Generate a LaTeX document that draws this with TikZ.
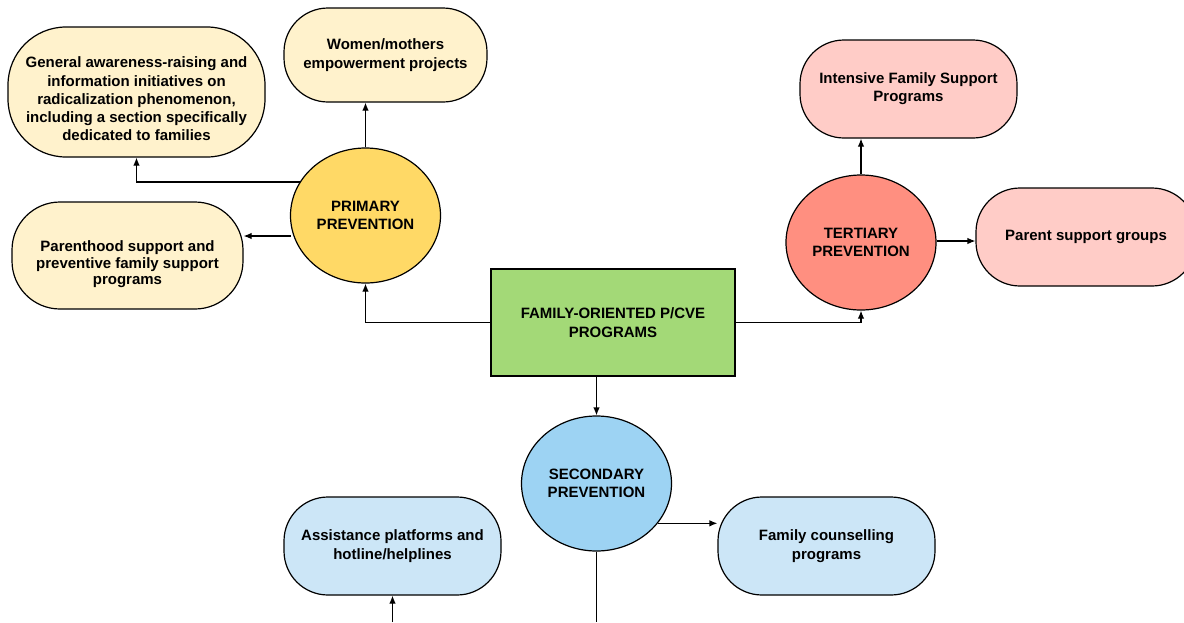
\documentclass[tikz,border=0pt]{standalone}
\usepackage{fontspec}
\setmainfont{Liberation Sans}
\usetikzlibrary{shapes.geometric,arrows.meta}
\definecolor{ylight}{HTML}{FFF2CC}
\definecolor{ydark}{HTML}{FFD966}
\definecolor{gmain}{HTML}{A3D977}
\definecolor{rdark}{HTML}{FF8F80}
\definecolor{rlight}{HTML}{FFCCC7}
\definecolor{bdark}{HTML}{9DD3F3}
\definecolor{blight}{HTML}{CCE6F7}
\begin{document}
\begin{tikzpicture}[x=1pt,y=-1pt,
  txt/.style={font=\bfseries\fontsize{15}{18.3}\selectfont,align=center,text=black},
  pill/.style={txt,draw=black,line width=1.2pt,rectangle,inner sep=0pt,rounded corners=44pt},
  oval/.style={txt,draw=black,line width=1.2pt,ellipse,inner sep=0pt,minimum width=150pt,minimum height=135pt},
  conn/.style={draw=black,line width=1.2pt,-{Latex[length=8pt,width=6.5pt]}},
  plain/.style={draw=black,line width=1.2pt}]
\useasboundingbox (0,0) rectangle (1184,622);

% primary branch
\node[pill,fill=ylight,minimum width=257pt,minimum height=130pt,rounded corners=58pt] (gen) at (136.5,92)
  {\parbox{250pt}{\vspace*{14pt}\centering General awareness-raising and\\ information initiatives on\\ radicalization phenomenon,\\ including a section specifically\\ dedicated to families}};
\node[pill,fill=ylight,minimum width=203pt,minimum height=94pt] (wom) at (385.5,55)
  {Women/mothers\\ empowerment projects};
\node[pill,fill=ylight,minimum width=231pt,minimum height=107pt,rounded corners=48pt,font=\bfseries\fontsize{15}{16.6}\selectfont] (par) at (127.5,255.5)
  {\parbox{220pt}{\vspace*{18pt}\centering Parenthood support and\\ preventive family support\\ programs}};
\node[oval,fill=ydark,font=\bfseries\fontsize{15}{17.5}\selectfont] (pri) at (365.5,215.5)
  {PRIMARY\\ PREVENTION};

% center
\node[txt,draw=black,line width=1.2pt,rectangle,fill=gmain,minimum width=244pt,minimum height=107pt,inner sep=0pt] (fam) at (613,322.5)
  {FAMILY-ORIENTED P/CVE\\ PROGRAMS};

% tertiary branch
\node[oval,fill=rdark,font=\bfseries\fontsize{15}{17.5}\selectfont] (ter) at (861,242.5) {TERTIARY\\ PREVENTION};
\node[pill,fill=rlight,minimum width=217pt,minimum height=98pt] (int) at (908.5,89)
  {Intensive Family Support\\ Programs};
\node[pill,fill=rlight,minimum width=220pt,minimum height=98pt] (psg) at (1086,237)
  {Parent support groups};

% secondary branch
\node[oval,fill=bdark] (sec) at (596.5,483.5) {SECONDARY\\ PREVENTION};
\node[pill,fill=blight,minimum width=217pt,minimum height=98pt] (ast) at (392.5,546)
  {Assistance platforms and\\ hotline/helplines};
\node[pill,fill=blight,minimum width=217pt,minimum height=98pt] (cou) at (826.5,546)
  {Family counselling\\ programs};

% connectors
\draw[conn] (pri.north) -- (pri.north |- wom.south);
\draw[conn] (pri.153) -- (gen.south |- pri.153) -- (gen.south);
\draw[conn] (pri.west |- 0,236) ++(1,0) -- (par.east |- 0,236);
\draw[conn] (fam.west) -- (pri.south |- fam.west) -- (pri.south);
\draw[conn] (fam.east) -- (ter.south |- fam.east) -- (ter.south);
\draw[conn] (ter.north) -- (ter.north |- int.south);
\draw[conn] (ter.east |- 0,241) -- (psg.west |- 0,241);
\draw[conn] (fam.south -| sec.north) -- (sec.north);
\draw[conn] (sec.-33) -- (cou.west |- sec.-33);
\coordinate (secend) at (596.5,622);
\coordinate (aststart) at (392.5,622);
\draw[plain] (sec.south) -- (secend);
\draw[conn] (aststart) -- (ast.south);
\end{tikzpicture}
\end{document}
